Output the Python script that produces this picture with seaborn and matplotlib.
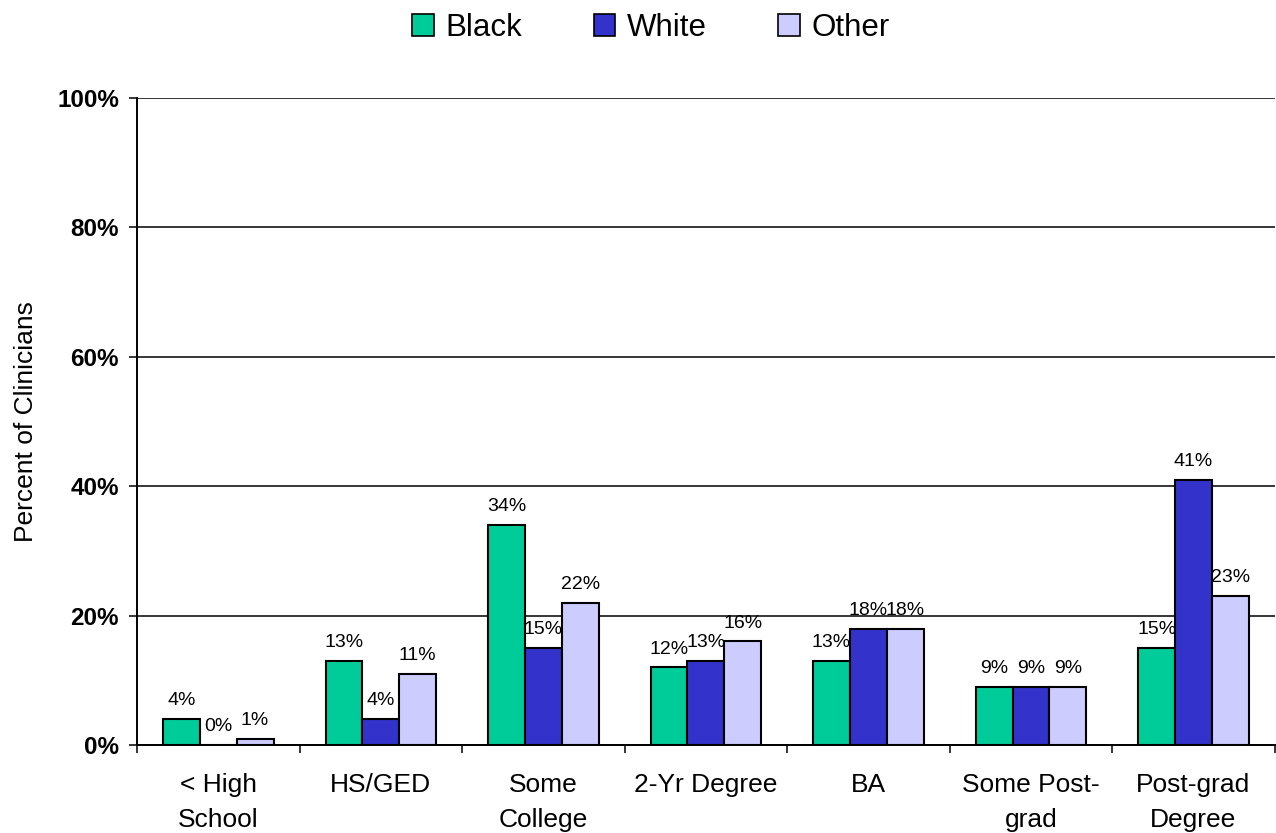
import matplotlib
matplotlib.use("Agg")
import matplotlib.pyplot as plt
import seaborn as sns
import pandas as pd
from matplotlib.patches import Patch

categories = ["< High\nSchool", "HS/GED", "Some\nCollege", "2-Yr Degree", "BA",
              "Some Post-\ngrad", "Post-grad\nDegree"]
series = ["Black", "White", "Other"]
black = [4, 13, 34, 12, 13, 9, 15]
white = [0, 4, 15, 13, 18, 9, 41]
other = [1, 11, 22, 16, 18, 9, 23]
yticks = [0, 20, 40, 60, 80, 100]
colors = ["#00CC99", "#3333CC", "#CCCCFF"]

df = pd.DataFrame({
    "Education": categories * 3,
    "Group": [s for s in series for _ in categories],
    "Percent": black + white + other,
})

sns.set_theme(style="white")
plt.rcParams["font.family"] = ["Liberation Sans", "DejaVu Sans"]
plt.rcParams.update({"text.color": "black", "axes.labelcolor": "black",
                     "xtick.color": "black", "ytick.color": "black"})

W, H = 1276, 833
fig = plt.figure(figsize=(W / 100, H / 100), dpi=100)
ax = fig.add_axes([137 / W, 88 / H, 1 - 137 / W - 0.001, (745 - 98) / H])

sns.barplot(data=df, x="Education", y="Percent", hue="Group", order=categories,
            hue_order=series, palette=colors, width=0.68, edgecolor="black",
            linewidth=1.5, ax=ax, legend=False, saturation=1)

for cont in ax.containers:
    vals = [p.get_height() for p in cont]
    ax.bar_label(cont, labels=[f"{v:.0f}%" for v in vals], padding=7,
                 fontsize=14, color="black")

ax.set_xlim(-0.5, len(categories) - 0.5)
ax.set_ylim(0, 100)
ax.set_yticks(yticks)
ax.set_yticklabels([f"{v}%" for v in yticks], fontsize=17.5, fontweight="bold")
ax.yaxis.grid(True, color="black", linewidth=1.1)
ax.set_axisbelow(True)
ax.tick_params(axis="y", length=6, width=1.1, direction="out", pad=7, left=True, color="black")

ax.set_xticks(range(len(categories)))
ax.set_xticklabels(categories, fontsize=19, linespacing=1.6)
ax.set_xticks([i - 0.5 for i in range(len(categories) + 1)], minor=True)
ax.tick_params(axis="x", which="major", length=0, pad=20)
ax.tick_params(axis="x", which="minor", length=6, width=1.1, direction="out",
               bottom=True, color="black")

for s in ["top", "right"]:
    ax.spines[s].set_visible(False)
ax.spines["left"].set_color("black")
ax.spines["left"].set_linewidth(1.4)
ax.spines["bottom"].set_color("black")
ax.spines["bottom"].set_linewidth(1.4)

ax.set_xlabel("")
ax.set_ylabel("Percent of Clinicians", fontsize=19)
ax.yaxis.set_label_coords((38 - 137) / (W - 137), 0.5)

handles = [Patch(facecolor=c, edgecolor="black", linewidth=1.2, label=s)
           for s, c in zip(series, colors)]
fig.legend(handles=handles, loc="center", bbox_to_anchor=(0.51, 1 - 28 / H), ncol=3,
           frameon=False, fontsize=22.5, handlelength=0.7, handleheight=0.7,
           handletextpad=0.35, columnspacing=2.3)

fig.savefig("out.png", dpi=100)
